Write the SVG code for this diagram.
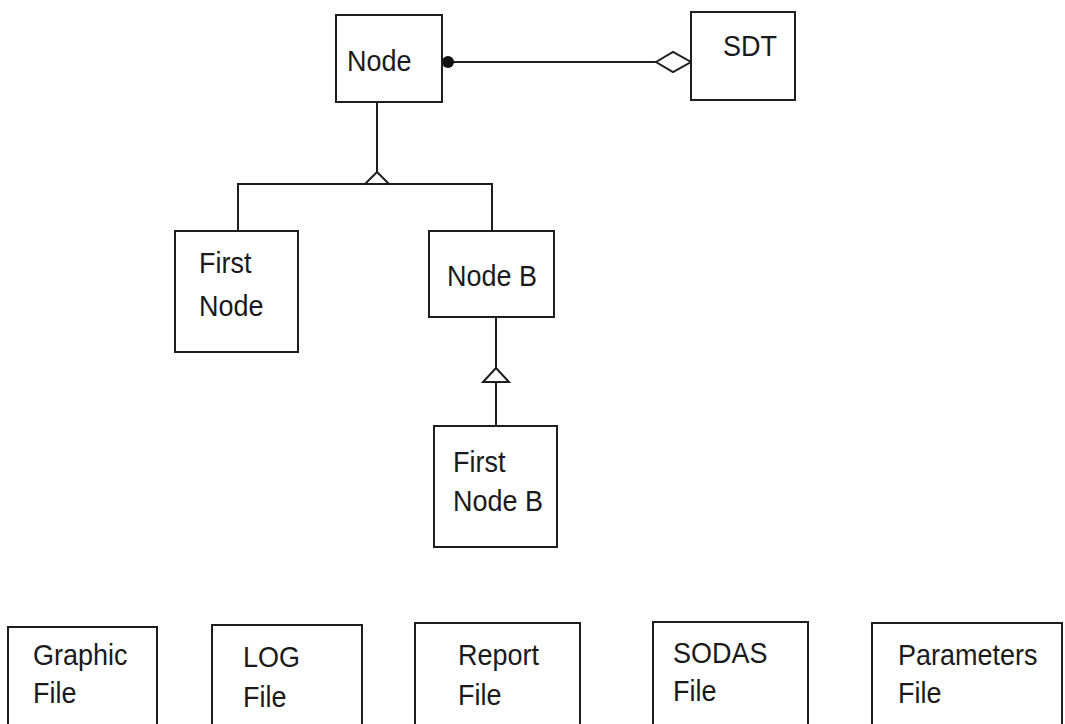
<svg xmlns="http://www.w3.org/2000/svg" width="1065" height="724" viewBox="0 0 1065 724">
  <style>
    .box { fill: #ffffff; stroke: #1e1e1e; stroke-width: 2; }
    .edge { fill: none; stroke: #1e1e1e; stroke-width: 2; }
    .head { fill: #ffffff; stroke: #1e1e1e; stroke-width: 2; stroke-linejoin: miter; }
    .label { font-family: "Liberation Sans", Arial, sans-serif; font-size: 27px; fill: #1a1a1a; }
  </style>
  <rect width="1065" height="724" fill="#ffffff"/>

  <!-- connectors -->
  <g id="connectors">
    <!-- Node to SDT aggregation -->
    <line class="edge" x1="448" y1="62" x2="656" y2="62"/>
    <circle cx="448" cy="62" r="6" fill="#111111"/>
    <polygon class="head" points="656,62 673,52 691,62 673,72"/>
    <!-- Node generalisation to First Node and Node B -->
    <line class="edge" x1="377" y1="102" x2="377" y2="172"/>
    <polyline class="edge" points="238,231 238,184 492,184 492,231"/>
    <polygon class="head" points="377,172 365,184 389,184"/>
    <!-- Node B generalisation to First Node B -->
    <line class="edge" x1="496" y1="382" x2="496" y2="426"/>
    <line class="edge" x1="496" y1="317" x2="496" y2="368"/>
    <polygon class="head" points="496,368 483,382 509,382"/>
  </g>

  <g id="node-node">
    <rect class="box" x="336" y="15" width="106" height="87"/>
    <text class="label" transform="translate(347,71) scale(1,1.12)">Node</text>
  </g>

  <g id="node-sdt">
    <rect class="box" x="691" y="12" width="104" height="88"/>
    <text class="label" transform="translate(723,56) scale(1,1.12)">SDT</text>
  </g>

  <g id="node-first-node">
    <rect class="box" x="175" y="231" width="123" height="121"/>
    <text class="label" transform="translate(199,273) scale(1,1.12)">First</text>
    <text class="label" transform="translate(199,316) scale(1,1.12)">Node</text>
  </g>

  <g id="node-node-b">
    <rect class="box" x="429" y="231" width="125" height="86"/>
    <text class="label" transform="translate(447,286) scale(1,1.12)">Node B</text>
  </g>

  <g id="node-first-node-b">
    <rect class="box" x="434" y="426" width="123" height="121"/>
    <text class="label" transform="translate(453,472) scale(1,1.12)">First</text>
    <text class="label" transform="translate(453,511) scale(1,1.12)">Node B</text>
  </g>

  <g id="node-graphic-file">
    <rect class="box" x="8" y="627" width="149" height="110"/>
    <text class="label" transform="translate(33,665) scale(1,1.12)">Graphic</text>
    <text class="label" transform="translate(33,703) scale(1,1.12)">File</text>
  </g>

  <g id="node-log-file">
    <rect class="box" x="212" y="625" width="150" height="110"/>
    <text class="label" transform="translate(243,667) scale(1,1.12)">LOG</text>
    <text class="label" transform="translate(243,707) scale(1,1.12)">File</text>
  </g>

  <g id="node-report-file">
    <rect class="box" x="415" y="623" width="165" height="110"/>
    <text class="label" transform="translate(458,665) scale(1,1.12)">Report</text>
    <text class="label" transform="translate(458,705) scale(1,1.12)">File</text>
  </g>

  <g id="node-sodas-file">
    <rect class="box" x="653" y="622" width="155" height="110"/>
    <text class="label" transform="translate(673,663) scale(1,1.12)">SODAS</text>
    <text class="label" transform="translate(673,701) scale(1,1.12)">File</text>
  </g>

  <g id="node-parameters-file">
    <rect class="box" x="872" y="623" width="190" height="110"/>
    <text class="label" transform="translate(898,665) scale(1,1.12)">Parameters</text>
    <text class="label" transform="translate(898,703) scale(1,1.12)">File</text>
  </g>
</svg>
